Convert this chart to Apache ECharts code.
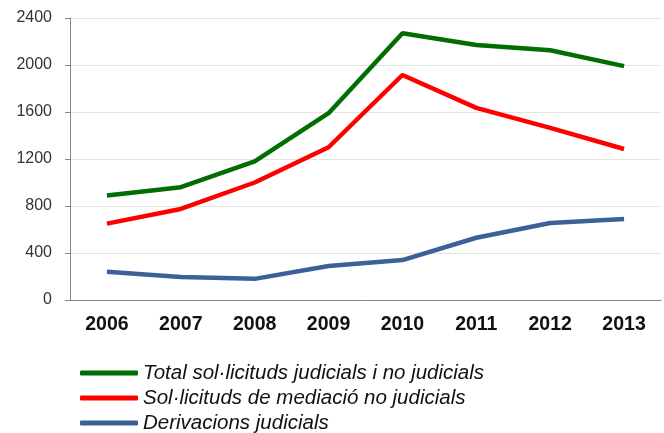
<!DOCTYPE html>
<html>
<head>
<meta charset="utf-8">
<script src="https://cdn.jsdelivr.net/npm/echarts@6/dist/echarts.min.js"></script>
<style>
  html, body { margin: 0; padding: 0; background: #fff; }
  #chart { width: 664px; height: 433px; }
</style>
</head>
<body>
<div id="chart"></div>
<script>
const years = ['2006', '2007', '2008', '2009', '2010', '2011', '2012', '2013']
const totalSolicituds = [890, 960, 1180, 1590, 2270, 2170, 2125, 1990]
const noJudicials = [650, 775, 1000, 1300, 1915, 1635, 1465, 1285]
const derivacions = [240, 195, 180, 290, 340, 530, 655, 690]
const yTicks = { min: 0, max: 2400, interval: 400 }

const chart = echarts.init(document.getElementById('chart'))

const lineSeries = (name, data, color) => ({
  name,
  type: 'line',
  data,
  symbol: 'none',
  lineStyle: { color, width: 4.5 },
  itemStyle: { color },
})

chart.setOption({
  animation: false,
  grid: { left: 70, right: 3, top: 18, bottom: 133 },
  legend: {
    orient: 'vertical',
    left: 80,
    top: 363,
    height: 80,
    padding: 0,
    icon: 'roundRect',
    itemWidth: 58,
    itemHeight: 5,
    itemGap: 5,
    textStyle: {
      fontFamily: 'Liberation Sans',
      fontStyle: 'italic',
      fontSize: 20.5,
      lineHeight: 20,
      color: '#111',
    },
  },
  xAxis: {
    type: 'category',
    data: years,
    boundaryGap: true,
    axisLine: { lineStyle: { color: '#888', width: 1 } },
    axisTick: { alignWithLabel: false, length: 7, lineStyle: { color: '#888' } },
    axisLabel: {
      margin: 15,
      fontFamily: 'Liberation Sans',
      fontWeight: 'bold',
      fontSize: 19.5,
      color: '#111',
    },
  },
  yAxis: {
    type: 'value',
    min: yTicks.min,
    max: yTicks.max,
    interval: yTicks.interval,
    axisLine: { show: true, lineStyle: { color: '#888', width: 1 } },
    axisTick: { show: true, length: 5, lineStyle: { color: '#888' } },
    splitLine: { lineStyle: { color: '#e6e4da', width: 1 } },
    axisLabel: {
      margin: 18,
      fontFamily: 'Liberation Sans',
      fontSize: 16,
      color: '#333',
      formatter: (v) => String(v),
    },
  },
  series: [
    lineSeries('Total sol·licituds judicials i no judicials', totalSolicituds, '#006e00'),
    lineSeries('Sol·licituds de mediació no judicials', noJudicials, '#ff0000'),
    lineSeries('Derivacions judicials', derivacions, '#3c6198'),
  ],
})
</script>
</body>
</html>
